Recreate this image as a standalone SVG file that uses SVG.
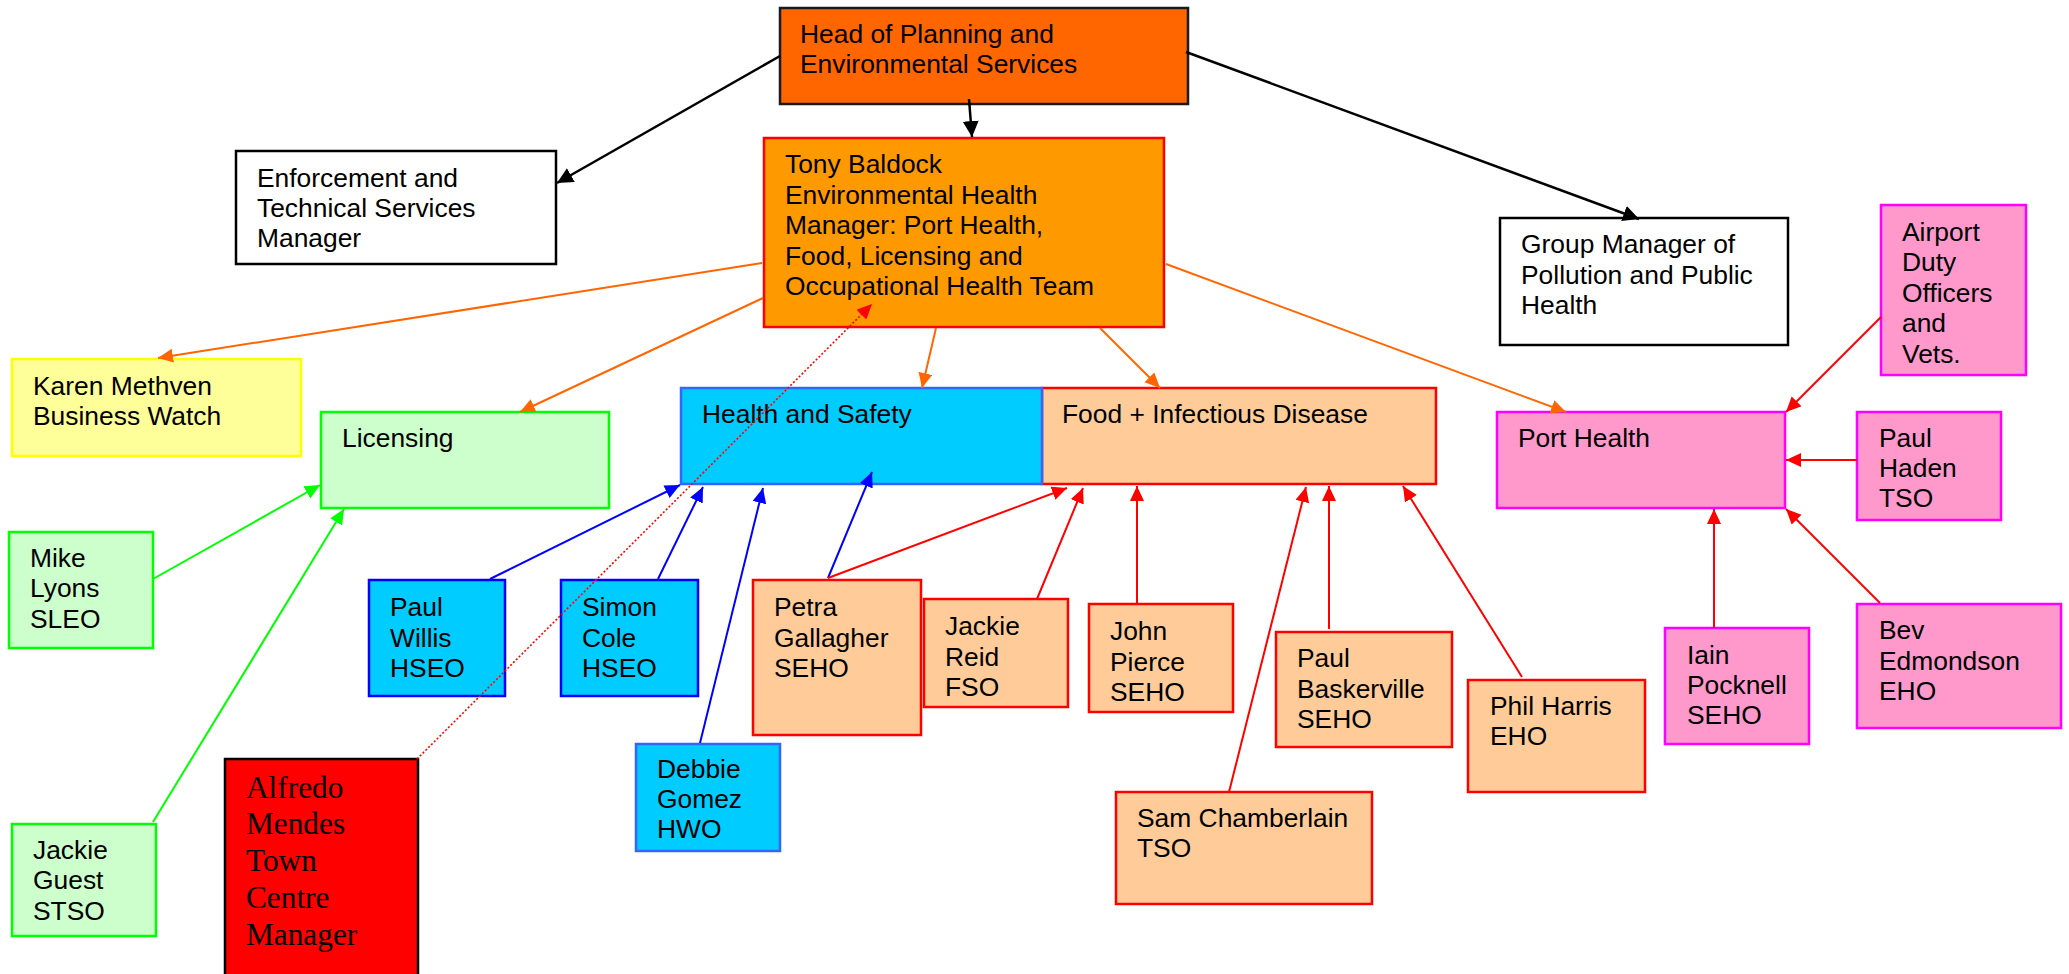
<svg xmlns="http://www.w3.org/2000/svg" width="2069" height="974" viewBox="0 0 2069 974">
<defs>
<style>
.n{stroke-width:2.5}
.t{font-family:"Liberation Sans",Arial,sans-serif;font-size:26.4px;fill:#000}
.ts{font-family:"Liberation Serif","Times New Roman",serif;font-size:31.3px;fill:#000}
.c{fill:none;stroke-width:2}
.blk{stroke:#000;stroke-width:2.5}
.org{stroke:#FF6600}
.red{stroke:#FF0000}
.grn{stroke:#00FF00}
.blu{stroke:#0000FF}
.dot{stroke:#FF0000;stroke-width:1.6;stroke-dasharray:2 2}
</style>
<marker id="aBlk" markerUnits="userSpaceOnUse" markerWidth="17" markerHeight="17" refX="16" refY="8" orient="auto"><path d="M0,0 L16,8 L0,16 z" fill="#000"/></marker>
<marker id="aOrg" markerUnits="userSpaceOnUse" markerWidth="16" markerHeight="15" refX="15" refY="7" orient="auto"><path d="M0,0 L15,7 L0,14 z" fill="#FF6600"/></marker>
<marker id="aRed" markerUnits="userSpaceOnUse" markerWidth="16" markerHeight="15" refX="15" refY="7" orient="auto"><path d="M0,0 L15,7 L0,14 z" fill="#FF0000"/></marker>
<marker id="aGrn" markerUnits="userSpaceOnUse" markerWidth="16" markerHeight="15" refX="15" refY="7" orient="auto"><path d="M0,0 L15,7 L0,14 z" fill="#00FF00"/></marker>
<marker id="aBlu" markerUnits="userSpaceOnUse" markerWidth="16" markerHeight="15" refX="15" refY="7" orient="auto"><path d="M0,0 L15,7 L0,14 z" fill="#0000FF"/></marker>
</defs>
<rect width="2069" height="974" fill="#fff"/>

<g id="head">
<rect class="n" x="780" y="8" width="408" height="96" fill="#FF6600" stroke="#1a1a1a"/>
<text class="t"><tspan x="800" y="43">Head of Planning and</tspan><tspan x="800" y="73">Environmental Services</tspan></text>
</g>
<g id="tony">
<rect class="n" x="764" y="138" width="400" height="189" fill="#FF9900" stroke="#FF0000"/>
<text class="t"><tspan x="785" y="173">Tony Baldock</tspan><tspan x="785" y="204">Environmental Health</tspan><tspan x="785" y="234">Manager: Port Health,</tspan><tspan x="785" y="265">Food, Licensing and</tspan><tspan x="785" y="295">Occupational Health Team</tspan></text>
</g>
<g id="enforcement">
<rect class="n" x="236" y="151" width="320" height="113" fill="#fff" stroke="#000"/>
<text class="t"><tspan x="257" y="187">Enforcement and</tspan><tspan x="257" y="217">Technical Services</tspan><tspan x="257" y="247">Manager</tspan></text>
</g>
<g id="groupmanager">
<rect class="n" x="1500" y="218" width="288" height="127" fill="#fff" stroke="#000"/>
<text class="t"><tspan x="1521" y="253">Group Manager of</tspan><tspan x="1521" y="284">Pollution and Public</tspan><tspan x="1521" y="314">Health</tspan></text>
</g>
<g id="karen">
<rect class="n" x="12" y="359" width="289" height="97" fill="#FFFF99" stroke="#FFFF00"/>
<text class="t"><tspan x="33" y="395">Karen Methven</tspan><tspan x="33" y="425">Business Watch</tspan></text>
</g>
<g id="licensing">
<rect class="n" x="321" y="412" width="288" height="96" fill="#CCFFCC" stroke="#00FF00"/>
<text class="t" x="342" y="447">Licensing</text>
</g>
<g id="food">
<rect class="n" x="1042" y="388" width="394" height="96" fill="#FFCC99" stroke="#FF0000"/>
<text class="t" x="1062" y="423">Food + Infectious Disease</text>
</g>
<g id="healthsafety">
<rect class="n" x="681" y="388" width="361" height="96" fill="#00CCFF" stroke="#3366FF"/>
<text class="t" x="702" y="423">Health and Safety</text>
</g>
<g id="porthealth">
<rect class="n" x="1497" y="412" width="288" height="96" fill="#FF99CC" stroke="#FF00FF"/>
<text class="t" x="1518" y="447">Port Health</text>
</g>
<g id="airport">
<rect class="n" x="1881" y="205" width="145" height="170" fill="#FF99CC" stroke="#FF00FF"/>
<text class="t"><tspan x="1902" y="241">Airport</tspan><tspan x="1902" y="271">Duty</tspan><tspan x="1902" y="302">Officers</tspan><tspan x="1902" y="332">and</tspan><tspan x="1902" y="363">Vets.</tspan></text>
</g>
<g id="paulhaden">
<rect class="n" x="1857" y="412" width="144" height="108" fill="#FF99CC" stroke="#FF00FF"/>
<text class="t"><tspan x="1879" y="447">Paul</tspan><tspan x="1879" y="477">Haden</tspan><tspan x="1879" y="507">TSO</tspan></text>
</g>
<g id="bev">
<rect class="n" x="1857" y="604" width="204" height="124" fill="#FF99CC" stroke="#FF00FF"/>
<text class="t"><tspan x="1879" y="639">Bev</tspan><tspan x="1879" y="670">Edmondson</tspan><tspan x="1879" y="700">EHO</tspan></text>
</g>
<g id="iain">
<rect class="n" x="1665" y="628" width="144" height="116" fill="#FF99CC" stroke="#FF00FF"/>
<text class="t"><tspan x="1687" y="664">Iain</tspan><tspan x="1687" y="694">Pocknell</tspan><tspan x="1687" y="724">SEHO</tspan></text>
</g>
<g id="phil">
<rect class="n" x="1468" y="680" width="177" height="112" fill="#FFCC99" stroke="#FF0000"/>
<text class="t"><tspan x="1490" y="715">Phil Harris</tspan><tspan x="1490" y="745">EHO</tspan></text>
</g>
<g id="baskerville">
<rect class="n" x="1276" y="632" width="176" height="115" fill="#FFCC99" stroke="#FF0000"/>
<text class="t"><tspan x="1297" y="667">Paul</tspan><tspan x="1297" y="698">Baskerville</tspan><tspan x="1297" y="728">SEHO</tspan></text>
</g>
<g id="sam">
<rect class="n" x="1116" y="792" width="256" height="112" fill="#FFCC99" stroke="#FF0000"/>
<text class="t"><tspan x="1137" y="827">Sam Chamberlain</tspan><tspan x="1137" y="857">TSO</tspan></text>
</g>
<g id="john">
<rect class="n" x="1089" y="604" width="144" height="108" fill="#FFCC99" stroke="#FF0000"/>
<text class="t"><tspan x="1110" y="640">John</tspan><tspan x="1110" y="671">Pierce</tspan><tspan x="1110" y="701">SEHO</tspan></text>
</g>
<g id="jackiereid">
<rect class="n" x="924" y="599" width="144" height="108" fill="#FFCC99" stroke="#FF0000"/>
<text class="t"><tspan x="945" y="635">Jackie</tspan><tspan x="945" y="666">Reid</tspan><tspan x="945" y="696">FSO</tspan></text>
</g>
<g id="petra">
<rect class="n" x="753" y="580" width="168" height="155" fill="#FFCC99" stroke="#FF0000"/>
<text class="t"><tspan x="774" y="616">Petra</tspan><tspan x="774" y="647">Gallagher</tspan><tspan x="774" y="677">SEHO</tspan></text>
</g>
<g id="debbie">
<rect class="n" x="636" y="744" width="144" height="107" fill="#00CCFF" stroke="#3366FF"/>
<text class="t"><tspan x="657" y="778">Debbie</tspan><tspan x="657" y="808">Gomez</tspan><tspan x="657" y="838">HWO</tspan></text>
</g>
<g id="paulwillis">
<rect class="n" x="369" y="580" width="136" height="116" fill="#00CCFF" stroke="#0000FF"/>
<text class="t"><tspan x="390" y="616">Paul</tspan><tspan x="390" y="647">Willis</tspan><tspan x="390" y="677">HSEO</tspan></text>
</g>
<g id="simoncole">
<rect class="n" x="561" y="580" width="137" height="116" fill="#00CCFF" stroke="#0000FF"/>
<text class="t"><tspan x="582" y="616">Simon</tspan><tspan x="582" y="647">Cole</tspan><tspan x="582" y="677">HSEO</tspan></text>
</g>
<g id="mike">
<rect class="n" x="9" y="532" width="144" height="116" fill="#CCFFCC" stroke="#00FF00"/>
<text class="t"><tspan x="30" y="567">Mike</tspan><tspan x="30" y="597">Lyons</tspan><tspan x="30" y="628">SLEO</tspan></text>
</g>
<g id="jackieguest">
<rect class="n" x="12" y="824" width="144" height="112" fill="#CCFFCC" stroke="#00FF00"/>
<text class="t"><tspan x="33" y="859">Jackie</tspan><tspan x="33" y="889">Guest</tspan><tspan x="33" y="920">STSO</tspan></text>
</g>
<g id="alfredo">
<rect class="n" x="225" y="759" width="193" height="230" fill="#FF0000" stroke="#000"/>
<text class="ts"><tspan x="246" y="798">Alfredo</tspan><tspan x="246" y="834">Mendes</tspan><tspan x="246" y="871">Town</tspan><tspan x="246" y="908">Centre</tspan><tspan x="246" y="945">Manager</tspan></text>
</g>

<g id="connectors">
<line class="c blk" x1="780" y1="56" x2="557" y2="183" marker-end="url(#aBlk)"/>
<line class="c blk" x1="969" y1="99" x2="972" y2="137" marker-end="url(#aBlk)"/>
<line class="c blk" x1="1186" y1="52" x2="1639" y2="219" marker-end="url(#aBlk)"/>
<line class="c org" x1="762" y1="263" x2="158" y2="358" marker-end="url(#aOrg)"/>
<line class="c org" x1="763" y1="298" x2="520" y2="412" marker-end="url(#aOrg)"/>
<line class="c org" x1="936" y1="328" x2="922" y2="388" marker-end="url(#aOrg)"/>
<line class="c org" x1="1100" y1="328" x2="1160" y2="388" marker-end="url(#aOrg)"/>
<line class="c org" x1="1166" y1="264" x2="1566" y2="412" marker-end="url(#aOrg)"/>
<line class="dot" x1="417" y1="759" x2="872" y2="304" marker-end="url(#aRed)"/>
<line class="c grn" x1="153" y1="579" x2="320" y2="485" marker-end="url(#aGrn)"/>
<line class="c grn" x1="153" y1="822" x2="344" y2="509" marker-end="url(#aGrn)"/>
<line class="c blu" x1="490" y1="579" x2="680" y2="485" marker-end="url(#aBlu)"/>
<line class="c blu" x1="658" y1="579" x2="703" y2="487" marker-end="url(#aBlu)"/>
<line class="c blu" x1="700" y1="743" x2="763" y2="488" marker-end="url(#aBlu)"/>
<line class="c blu" x1="828" y1="578" x2="872" y2="472" marker-end="url(#aBlu)"/>
<line class="c red" x1="828" y1="578" x2="1067" y2="488" marker-end="url(#aRed)"/>
<line class="c red" x1="1037" y1="599" x2="1083" y2="488" marker-end="url(#aRed)"/>
<line class="c red" x1="1137" y1="604" x2="1137" y2="486" marker-end="url(#aRed)"/>
<line class="c red" x1="1229" y1="792" x2="1306" y2="487" marker-end="url(#aRed)"/>
<line class="c red" x1="1329" y1="629" x2="1329" y2="486" marker-end="url(#aRed)"/>
<line class="c red" x1="1522" y1="677" x2="1403" y2="486" marker-end="url(#aRed)"/>
<line class="c red" x1="1714" y1="628" x2="1714" y2="509" marker-end="url(#aRed)"/>
<line class="c red" x1="1880" y1="603" x2="1786" y2="509" marker-end="url(#aRed)"/>
<line class="c red" x1="1857" y1="460" x2="1786" y2="460" marker-end="url(#aRed)"/>
<line class="c red" x1="1881" y1="317" x2="1786" y2="412" marker-end="url(#aRed)"/>
</g>
</svg>
